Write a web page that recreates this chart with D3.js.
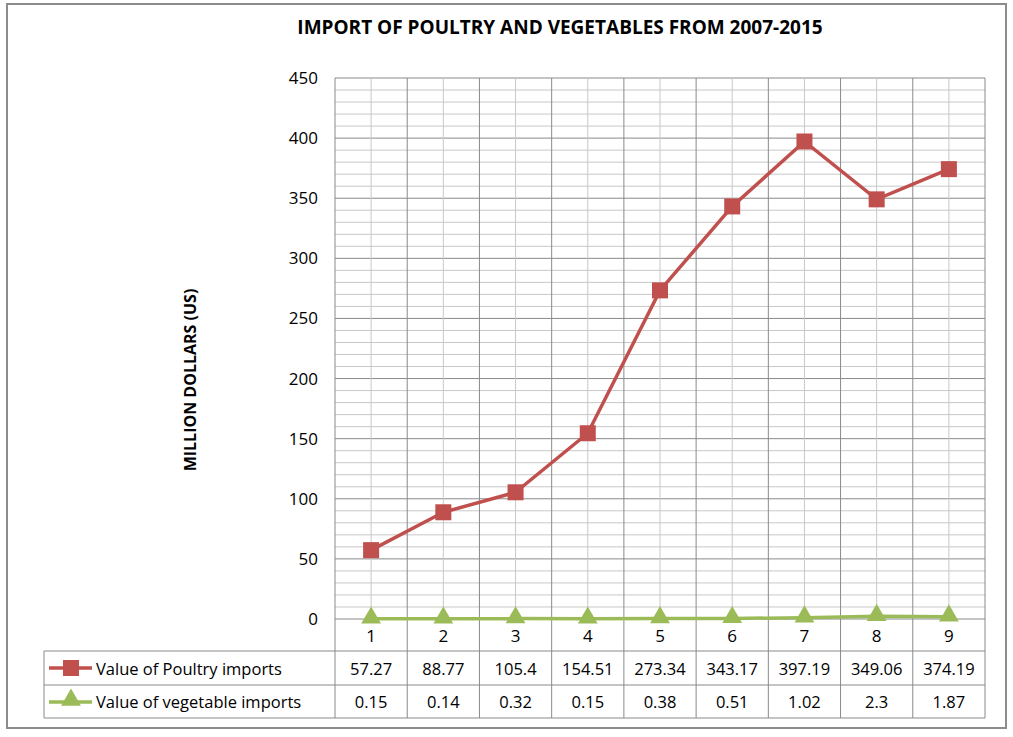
<!DOCTYPE html><html><head><meta charset="utf-8"><script src="https://cdn.jsdelivr.net/npm/d3@7"></script>
<style>body{margin:0;background:#fff}text{font-family:"Open Sans","Liberation Sans",sans-serif}</style></head><body>
<svg id="c" width="1013" height="737"></svg>
<script>
const categories=["1","2","3","4","5","6","7","8","9"];
const poultry=[57.27,88.77,105.4,154.51,273.34,343.17,397.19,349.06,374.19];
const poultryLabels=["57.27","88.77","105.4","154.51","273.34","343.17","397.19","349.06","374.19"];
const veg=[0.15,0.14,0.32,0.15,0.38,0.51,1.02,2.3,1.87];
const vegLabels=["0.15","0.14","0.32","0.15","0.38","0.51","1.02","2.3","1.87"];
const yTicks=[0,50,100,150,200,250,300,350,400,450];
const svg=d3.select("#c");
const L=335,R=985,T=78,B=619;
svg.append("rect").attr("x",7).attr("y",4).attr("width",999).attr("height",724).attr("fill","#fff").attr("stroke","#8c8c8c").attr("stroke-width",2);
const x=d3.scaleBand().domain(categories).range([L,R]);
const y=d3.scaleLinear().domain([0,450]).range([B,T]);
const g=svg.append("g");
// minor horizontal
d3.range(0,451,10).forEach(v=>g.append("line").attr("x1",L).attr("x2",R).attr("y1",y(v)).attr("y2",y(v)).attr("stroke",v%50?"#c8c8c8":"#8a8a8a").attr("stroke-width",1));
// vertical center lines
categories.forEach(c=>g.append("line").attr("x1",x(c)+x.bandwidth()/2).attr("x2",x(c)+x.bandwidth()/2).attr("y1",T).attr("y2",B).attr("stroke","#c8c8c8"));
// boundaries down through table
const tb=[651,685,718];
categories.concat(["end"]).forEach((c,i)=>{const xx=L+i*x.bandwidth();g.append("line").attr("x1",xx).attr("x2",xx).attr("y1",T).attr("y2",tb[2]).attr("stroke","#8a8a8a");});
// table horizontal
tb.forEach(t=>g.append("line").attr("x1",44).attr("x2",R).attr("y1",t).attr("y2",t).attr("stroke","#8a8a8a"));
g.append("line").attr("x1",44).attr("x2",44).attr("y1",tb[0]).attr("y2",tb[2]).attr("stroke","#8a8a8a");
// y ticks
yTicks.forEach(v=>svg.append("text").attr("x",318).attr("y",y(v)+6).attr("text-anchor","end").attr("font-size",17).text(v));
// category labels
categories.forEach(c=>svg.append("text").attr("x",x(c)+x.bandwidth()/2).attr("y",642).attr("text-anchor","middle").attr("font-size",17).text(c));
// table values
categories.forEach((c,i)=>{
 svg.append("text").attr("x",x(c)+x.bandwidth()/2).attr("y",675).attr("text-anchor","middle").attr("font-size",16.5).text(poultryLabels[i]);
 svg.append("text").attr("x",x(c)+x.bandwidth()/2).attr("y",708).attr("text-anchor","middle").attr("font-size",16.5).text(vegLabels[i]);
});
const cx=c=>x(c)+x.bandwidth()/2;
const line=d3.line().x((d,i)=>cx(categories[i])).y(d=>y(d));
svg.append("path").datum(poultry).attr("d",line).attr("fill","none").attr("stroke","#c0504d").attr("stroke-width",3.5);
svg.append("path").datum(veg).attr("d",line).attr("fill","none").attr("stroke","#9bbb59").attr("stroke-width",3.5);
poultry.forEach((v,i)=>svg.append("rect").attr("x",cx(categories[i])-8).attr("y",y(v)-8).attr("width",16).attr("height",16).attr("fill","#c0504d"));
const tri=d3.symbol().type(d3.symbolTriangle).size(170);
veg.forEach((v,i)=>svg.append("path").attr("d",tri()).attr("transform",`translate(${cx(categories[i])},${y(v)-1})`).attr("fill","#9bbb59"));
// legend keys
svg.append("line").attr("x1",49).attr("x2",92).attr("y1",668).attr("y2",668).attr("stroke","#c0504d").attr("stroke-width",3.5);
svg.append("rect").attr("x",63).attr("y",660).attr("width",16).attr("height",16).attr("fill","#c0504d");
svg.append("line").attr("x1",49).attr("x2",92).attr("y1",702).attr("y2",702).attr("stroke","#9bbb59").attr("stroke-width",3.5);
svg.append("path").attr("d",tri()).attr("transform","translate(71,700)").attr("fill","#9bbb59");
svg.append("text").attr("x",96).attr("y",675).attr("font-size",16.5).text("Value of Poultry imports");
svg.append("text").attr("x",96).attr("y",708).attr("font-size",16.5).text("Value of vegetable imports");
svg.append("text").attr("x",560).attr("y",34).attr("text-anchor","middle").attr("font-size",19).attr("font-weight","bold").text("IMPORT OF POULTRY AND VEGETABLES FROM 2007-2015");
svg.append("text").attr("transform","translate(196,380) rotate(-90)").attr("text-anchor","middle").attr("font-size",16).attr("font-weight","bold").text("MILLION DOLLARS (US)");
</script></body></html>
